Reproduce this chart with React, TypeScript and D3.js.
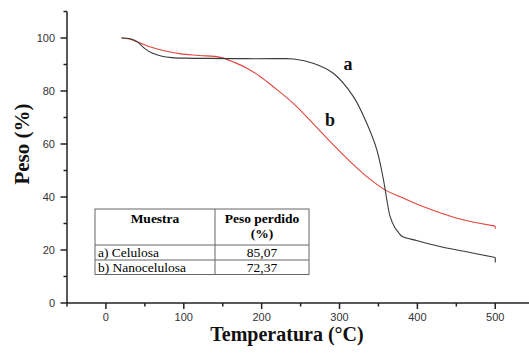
import React, { useRef, useEffect } from "react";
import * as d3 from "d3";

// curve a (celulosa) - temperatura / peso
const tempA = [20, 30, 40, 50, 60, 72, 85, 100, 134, 180, 220, 241, 267, 292, 318, 335, 348, 356.5, 361, 365, 371, 376, 380, 400, 429, 460, 500];
const pesoA = [100, 99.8, 98.6, 96, 94.2, 93.1, 92.6, 92.4, 92.3, 92.2, 92.2, 92.1, 90.4, 86.7, 77.8, 67.8, 57.7, 46.4, 38.5, 32.6, 28.5, 26.5, 25.2, 23.5, 21.3, 19.5, 17.2];

// curve b (nanocelulosa)
const tempB = [20, 30, 40, 55, 78, 96, 120, 147, 165, 181, 198, 215, 241, 267, 288, 310, 335, 359, 378, 408, 451, 500];
const pesoB = [100, 99.6, 98.6, 96.8, 95, 94, 93.4, 92.7, 90.8, 88.6, 85.5, 81.6, 75.2, 67.4, 60.9, 54.4, 47.7, 42.6, 40.1, 36.3, 32, 29];

// little drop at the end of each trace
const endA = [17.2, 15.3];
const endB = [29, 28];

const xMajor = [0, 100, 200, 300, 400, 500];
const xMinor = [-50, 50, 150, 250, 350, 450];
const yMajor = [0, 20, 40, 60, 80, 100];
const yMinor = [10, 30, 50, 70, 90, 110];

const tableHead = ["Muestra", "Peso perdido", "(%)"];
const muestras = ["a) Celulosa", "b) Nanocelulosa"];
const perdido = ["85,07", "72,37"];

const App = () => {
    const ref = useRef<SVGSVGElement>(null);

    useEffect(() => {
        const width = 529;
        const height = 354;
        const axisColor = "#222";
        const serif = "Liberation Serif, Times New Roman, Times, DejaVu Serif, serif";
        const sans = "Liberation Sans, Arial, sans-serif";

        const svg = d3.select(ref.current)
            .attr("width", width)
            .attr("height", height);
        svg.selectAll("*").remove();

        const x = d3.scaleLinear().domain([-50, 545]).range([67, 530.3]);
        const y = d3.scaleLinear().domain([0, 110]).range([303, 11.5]);

        // axes lines
        svg.append("line")
            .attr("x1", x(-50)).attr("x2", x(545))
            .attr("y1", y(0)).attr("y2", y(0))
            .attr("stroke", axisColor).attr("stroke-width", 1.5);
        svg.append("line")
            .attr("x1", x(-50)).attr("x2", x(-50))
            .attr("y1", y(0)).attr("y2", y(110))
            .attr("stroke", axisColor).attr("stroke-width", 1.5);

        // x ticks
        svg.selectAll(".xmaj").data(xMajor).enter().append("line")
            .attr("x1", d => x(d)).attr("x2", d => x(d))
            .attr("y1", y(0)).attr("y2", y(0) + 6)
            .attr("stroke", axisColor).attr("stroke-width", 1.5);
        svg.selectAll(".xmin").data(xMinor).enter().append("line")
            .attr("x1", d => x(d)).attr("x2", d => x(d))
            .attr("y1", y(0)).attr("y2", y(0) + 3.5)
            .attr("stroke", axisColor).attr("stroke-width", 1.5);
        svg.selectAll(".xlab").data(xMajor).enter().append("text")
            .attr("x", d => x(d)).attr("y", 321)
            .attr("text-anchor", "middle")
            .style("font-family", sans).attr("font-size", 11)
            .attr("fill", "#333")
            .text(d => d);

        // y ticks
        svg.selectAll(".ymaj").data(yMajor).enter().append("line")
            .attr("x1", x(-50) - 6.5).attr("x2", x(-50))
            .attr("y1", d => y(d)).attr("y2", d => y(d))
            .attr("stroke", axisColor).attr("stroke-width", 1.5);
        svg.selectAll(".ymin").data(yMinor).enter().append("line")
            .attr("x1", x(-50) - 3.5).attr("x2", x(-50))
            .attr("y1", d => y(d)).attr("y2", d => y(d))
            .attr("stroke", axisColor).attr("stroke-width", 1.5);
        svg.selectAll(".ylab").data(yMajor).enter().append("text")
            .attr("x", 55).attr("y", d => y(d) + 4)
            .attr("text-anchor", "end")
            .style("font-family", sans).attr("font-size", 11)
            .attr("fill", "#333")
            .text(d => d);

        // axis titles
        svg.append("text")
            .attr("x", 287).attr("y", 341)
            .attr("text-anchor", "middle")
            .style("font-family", serif).attr("font-size", 20).attr("font-weight", "bold")
            .attr("fill", "#111")
            .text("Temperatura (°C)");
        svg.append("text")
            .attr("transform", "translate(29,144) rotate(-90)")
            .attr("text-anchor", "middle")
            .style("font-family", serif).attr("font-size", 21).attr("font-weight", "bold")
            .attr("fill", "#111")
            .text("Peso (%)");

        // curves
        const line = d3.line<[number, number]>()
            .x(d => x(d[0]))
            .y(d => y(d[1]))
            .curve(d3.curveCatmullRom.alpha(0.5));

        const ptsA = tempA.map((t, i) => [t, pesoA[i]] as [number, number]);
        const ptsB = tempB.map((t, i) => [t, pesoB[i]] as [number, number]);

        svg.append("path")
            .attr("d", line(ptsB))
            .attr("fill", "none").attr("stroke", "#e0453c").attr("stroke-width", 1.1);
        svg.append("path")
            .attr("d", line(ptsA))
            .attr("fill", "none").attr("stroke", "#3a3a3a").attr("stroke-width", 1.1);

        svg.append("line")
            .attr("x1", x(500)).attr("x2", x(500))
            .attr("y1", y(endA[0])).attr("y2", y(endA[1]))
            .attr("stroke", "#3a3a3a").attr("stroke-width", 1.1);
        svg.append("line")
            .attr("x1", x(500)).attr("x2", x(500))
            .attr("y1", y(endB[0])).attr("y2", y(endB[1]))
            .attr("stroke", "#e0453c").attr("stroke-width", 1.1);

        // curve labels
        svg.append("text")
            .attr("x", 348).attr("y", 70)
            .attr("text-anchor", "middle")
            .style("font-family", serif).attr("font-size", 18).attr("font-weight", "bold")
            .attr("fill", "#111")
            .text("a");
        svg.append("text")
            .attr("x", 330).attr("y", 126)
            .attr("text-anchor", "middle")
            .style("font-family", serif).attr("font-size", 18).attr("font-weight", "bold")
            .attr("fill", "#111")
            .text("b");

        // table
        const tx0 = 95, tx1 = 215, tx2 = 309;
        const rowsY = [209, 245, 260, 274.5];
        const tbl = svg.append("g");
        tbl.append("rect")
            .attr("x", tx0).attr("y", rowsY[0])
            .attr("width", tx2 - tx0).attr("height", rowsY[3] - rowsY[0])
            .attr("fill", "#fff").attr("stroke", "#666").attr("stroke-width", 1);
        tbl.append("line")
            .attr("x1", tx1).attr("x2", tx1).attr("y1", rowsY[0]).attr("y2", rowsY[3])
            .attr("stroke", "#666");
        [rowsY[1], rowsY[2]].forEach(ry => {
            tbl.append("line")
                .attr("x1", tx0).attr("x2", tx2).attr("y1", ry).attr("y2", ry)
                .attr("stroke", "#666");
        });

        tbl.append("text")
            .attr("x", (tx0 + tx1) / 2).attr("y", 223)
            .attr("text-anchor", "middle")
            .style("font-family", serif).attr("font-size", 13.5).attr("font-weight", "bold")
            .text(tableHead[0]);
        tbl.append("text")
            .attr("x", (tx1 + tx2) / 2).attr("y", 223)
            .attr("text-anchor", "middle")
            .style("font-family", serif).attr("font-size", 13.5).attr("font-weight", "bold")
            .text(tableHead[1]);
        tbl.append("text")
            .attr("x", (tx1 + tx2) / 2).attr("y", 238)
            .attr("text-anchor", "middle")
            .style("font-family", serif).attr("font-size", 13.5).attr("font-weight", "bold")
            .text(tableHead[2]);

        muestras.forEach((m, i) => {
            tbl.append("text")
                .attr("x", tx0 + 3).attr("y", rowsY[i + 1] + 12)
                .style("font-family", serif).attr("font-size", 13.5)
                .text(m);
            tbl.append("text")
                .attr("x", (tx1 + tx2) / 2).attr("y", rowsY[i + 1] + 12)
                .attr("text-anchor", "middle")
                .style("font-family", serif).attr("font-size", 13.5)
                .text(perdido[i]);
        });
    }, []);

    return (
        <div style={{ position: "absolute", left: 0, top: 0 }}>
            <svg ref={ref} style={{ display: "block", background: "#fff" }}></svg>
        </div>
    );
};

export default App;
